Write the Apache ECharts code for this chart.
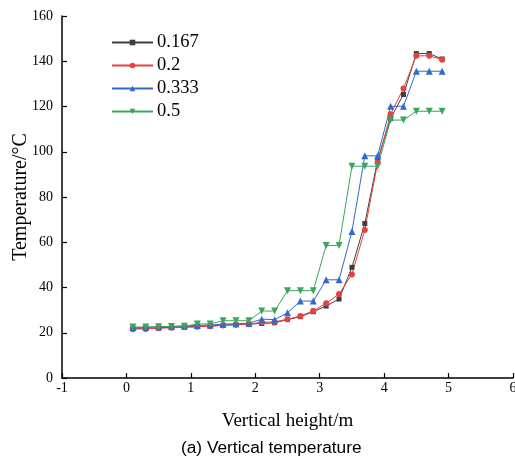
<!DOCTYPE html>
<html>
<head>
<meta charset="utf-8">
<script src="https://cdn.jsdelivr.net/npm/echarts@6/dist/echarts.min.js"></script>
<style>
  html, body { margin: 0; padding: 0; background: #fff; }
  #chart { width: 515px; height: 461px; }
</style>
</head>
<body>
<div id="chart"></div>
<script>
// Measurement heights (m)
const heights = [0.1, 0.3, 0.5, 0.7, 0.9, 1.1, 1.3, 1.5, 1.7, 1.9, 2.1, 2.3, 2.5,
                 2.7, 2.9, 3.1, 3.3, 3.5, 3.7, 3.9, 4.1, 4.3, 4.5, 4.7, 4.9];

// Temperature (°C) for each ratio
const t0167 = [22.0, 22.0, 22.2, 22.4, 22.6, 22.8, 23.0, 23.4, 23.6, 23.8, 24.1, 24.4, 25.8,
               27.1, 29.3, 31.8, 34.9, 48.9, 68.3, 96.5, 114.8, 125.3, 143.4, 143.4, 141.0];
const t02   = [21.6, 21.7, 22.0, 22.2, 22.4, 22.6, 22.9, 23.2, 23.5, 23.8, 24.6, 24.8, 26.0,
               27.4, 29.7, 33.0, 37.1, 45.8, 65.4, 95.3, 116.6, 128.0, 142.4, 142.4, 140.7];
const t0333 = [22.3, 22.4, 22.6, 22.8, 23.0, 23.2, 23.4, 23.8, 24.0, 24.2, 26.0, 25.8, 28.8,
               34.0, 34.0, 43.4, 43.4, 64.8, 98.2, 98.2, 120.1, 120.1, 135.6, 135.6, 135.6];
const t05   = [22.5, 22.5, 22.7, 22.8, 22.9, 23.9, 23.9, 25.3, 25.3, 25.3, 29.6, 29.6, 38.6,
               38.6, 38.6, 58.6, 58.6, 93.6, 93.6, 93.6, 114.0, 114.0, 117.9, 117.9, 117.9];

const seriesNames = ['0.167', '0.2', '0.333', '0.5'];
const xTicks = { min: -1, max: 6, step: 1 };
const yTicks = { min: 0, max: 160, step: 20 };

const serif = 'Liberation Serif';
const pair = arr => heights.map((h, i) => [h, arr[i]]);

function lineSeries(name, data, color, symbol, size, rotate) {
  return {
    name: name,
    type: 'line',
    data: pair(data),
    symbol: symbol,
    symbolSize: size,
    symbolRotate: rotate || 0,
    itemStyle: { color: color },
    lineStyle: { color: color, width: 1 },
    emphasis: { disabled: true },
    animation: false
  };
}

const chart = echarts.init(document.getElementById('chart'));
chart.setOption({
  backgroundColor: '#ffffff',
  animation: false,
  grid: { left: 62, right: 2, top: 16, bottom: 83, containLabel: false, outerBoundsMode: 'none' },
  legend: {
    orient: 'vertical',
    left: 106,
    top: 28,
    itemWidth: 41,
    itemHeight: 7,
    itemGap: 4,
    textStyle: { fontFamily: serif, fontSize: 18.5, color: '#000', padding: [0, 0, 0, -1] },
    data: seriesNames
  },
  xAxis: {
    type: 'value',
    min: xTicks.min,
    max: xTicks.max,
    interval: xTicks.step,
    name: 'Vertical height/m',
    nameLocation: 'middle',
    nameGap: 34,
    nameMoveOverlap: false,
    nameTextStyle: { fontFamily: serif, fontSize: 19, color: '#000' },
    axisLine: { show: true, onZero: false, lineStyle: { color: '#000', width: 1.5 } },
    axisTick: { show: true, inside: true, length: 5, lineStyle: { color: '#000', width: 1.2 } },
    axisLabel: { fontFamily: serif, fontSize: 14, color: '#000', margin: 3, showMaxLabel: true, showMinLabel: true },
    splitLine: { show: false }
  },
  yAxis: {
    type: 'value',
    min: yTicks.min,
    max: yTicks.max,
    interval: yTicks.step,
    name: 'Temperature/\u00b0C',
    nameLocation: 'middle',
    nameGap: 31,
    nameMoveOverlap: false,
    nameTextStyle: { fontFamily: serif, fontSize: 20, color: '#000' },
    axisLine: { show: true, onZero: false, lineStyle: { color: '#000', width: 1.5 } },
    axisTick: { show: true, inside: true, length: 5, lineStyle: { color: '#000', width: 1.2 } },
    axisLabel: { fontFamily: serif, fontSize: 14, color: '#000', margin: 9 },
    splitLine: { show: false }
  },
  title: {
    text: '(a) Vertical temperature',
    left: 181,
    top: 440,
    padding: 0,
    textStyle: { fontFamily: 'Liberation Sans', fontSize: 17.3, fontWeight: 'normal', color: '#000' }
  },
  series: [
    lineSeries(seriesNames[0], t0167, '#3f3f3f', 'rect', 5),
    lineSeries(seriesNames[1], t02, '#e8413f', 'circle', 6),
    lineSeries(seriesNames[2], t0333, '#2f6bcf', 'triangle', 7),
    lineSeries(seriesNames[3], t05, '#3aa65f', 'triangle', 7, 180)
  ]
});
</script>
</body>
</html>
